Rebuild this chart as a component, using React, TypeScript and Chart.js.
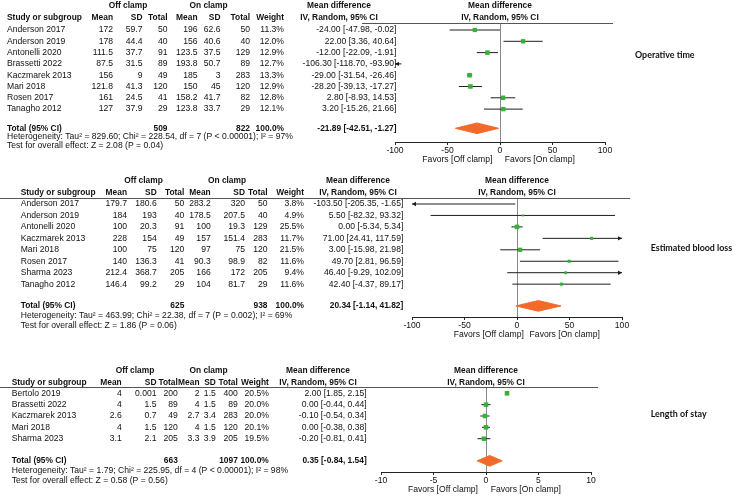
import React, { useEffect, useRef } from "react";
import { Chart, registerables } from "chart.js";

Chart.register(...registerables);

// ================= DATA =================
// --- Operative time ---
const opStudies = ["Anderson 2017", "Anderson 2019", "Antonelli 2020", "Brassetti 2022", "Kaczmarek 2013", "Mari 2018", "Rosen 2017", "Tanagho 2012"];
const opOffMean = [172, 178, 111.5, 87.5, 156, 121.8, 161, 127];
const opOffSD = [59.7, 44.4, 37.7, 31.5, 9, 41.3, 24.5, 37.9];
const opOffN = [50, 40, 91, 89, 49, 120, 41, 29];
const opOnMean = [196, 156, 123.5, 193.8, 185, 150, 158.2, 123.8];
const opOnSD = [62.6, 40.6, 37.5, 50.7, 3, 45, 41.7, 33.7];
const opOnN = [50, 40, 129, 89, 283, 120, 82, 29];
const opWeight = [11.3, 12.0, 12.9, 12.7, 13.3, 12.9, 12.8, 12.1];
const opMD = [-24.0, 22.0, -12.0, -106.3, -29.0, -28.2, 2.8, 3.2];
const opLo = [-47.98, 3.36, -22.09, -118.7, -31.54, -39.13, -8.93, -15.26];
const opHi = [-0.02, 40.64, -1.91, -93.9, -26.46, -17.27, 14.53, 21.66];
const opTotals = [509, 822];
const opPooled = [-21.89, -42.51, -1.27];
const opHet = "Heterogeneity: Tau² = 829.60; Chi² = 228.54, df = 7 (P < 0.00001); I² = 97%";
const opTest = "Test for overall effect: Z = 2.08 (P = 0.04)";
const opTicks = [-100, -50, 0, 50, 100];

// --- Estimated blood loss ---
const blStudies = ["Anderson 2017", "Anderson 2019", "Antonelli 2020", "Kaczmarek 2013", "Mari 2018", "Rosen 2017", "Sharma 2023", "Tanagho 2012"];
const blOffMean = [179.7, 184, 100, 228, 100, 140, 212.4, 146.4];
const blOffSD = [180.6, 193, 20.3, 154, 75, 136.3, 368.7, 99.2];
const blOffN = [50, 40, 91, 49, 120, 41, 205, 29];
const blOnMean = [283.2, 178.5, 100, 157, 97, 90.3, 166, 104];
const blOnSD = [320, 207.5, 19.3, 151.4, 75, 98.9, 172, 81.7];
const blOnN = [50, 40, 129, 283, 120, 82, 205, 29];
const blWeight = [3.8, 4.9, 25.5, 11.7, 21.5, 11.6, 9.4, 11.6];
const blMD = [-103.5, 5.5, 0.0, 71.0, 3.0, 49.7, 46.4, 42.4];
const blLo = [-205.35, -82.32, -5.34, 24.41, -15.98, 2.81, -9.29, -4.37];
const blHi = [-1.65, 93.32, 5.34, 117.59, 21.98, 96.59, 102.09, 89.17];
const blTotals = [625, 938];
const blPooled = [20.34, -1.14, 41.82];
const blHet = "Heterogeneity: Tau² = 463.99; Chi² = 22.38, df = 7 (P = 0.002); I² = 69%";
const blTest = "Test for overall effect: Z = 1.86 (P = 0.06)";
const blTicks = [-100, -50, 0, 50, 100];

// --- Length of stay ---
const losStudies = ["Bertolo 2019", "Brassetti 2022", "Kaczmarek 2013", "Mari 2018", "Sharma 2023"];
const losOffMean = [4, 4, 2.6, 4, 3.1];
const losOffSD = [0.001, 1.5, 0.7, 1.5, 2.1];
const losOffN = [200, 89, 49, 120, 205];
const losOnMean = [2, 4, 2.7, 4, 3.3];
const losOnSD = [1.5, 1.5, 3.4, 1.5, 3.9];
const losOnN = [400, 89, 283, 120, 205];
const losWeight = [20.5, 20.0, 20.0, 20.1, 19.5];
const losMD = [2.0, 0.0, -0.1, 0.0, -0.2];
const losLo = [1.85, -0.44, -0.54, -0.38, -0.81];
const losHi = [2.15, 0.44, 0.34, 0.38, 0.41];
const losTotals = [663, 1097];
const losPooled = [0.35, -0.84, 1.54];
const losHet = "Heterogeneity: Tau² = 1.79; Chi² = 225.95, df = 4 (P < 0.00001); I² = 98%";
const losTest = "Test for overall effect: Z = 0.58 (P = 0.56)";
const losTicks = [-10, -5, 0, 5, 10];

// ================= STYLE / LAYOUT =================
const W = 739;
const FONT = '"Liberation Sans", Arial, Helvetica, sans-serif';
const FS = 8.6;
const BOLD_FS = 8.4;
const LABEL_FONT = 'bold 8.9px Lato, "Open Sans", sans-serif';
const TEXT = "#111";
const GREEN = "#33b333";
const ORANGE = "#f26a2a";
const CI_COLOR = "#1e1e1e";
const ZERO = "#8a8a8a";
const RULE = "#555";
const AXIS = "#222";
const AXIS_H = 12;
const SQ_MAX = 4.6;
const DIAMOND_HALF = 5.3;

type PanelData = {
  title: string; studies: string[];
  offMean: number[]; offSD: number[]; offN: number[];
  onMean: number[]; onSD: number[]; onN: number[];
  weight: number[]; md: number[]; lo: number[]; hi: number[];
  totals: number[]; pooled: number[]; het: string; test: string; ticks: number[];
};

type Cols = { name: number; offMean: number; offSD: number; offN: number; onMean: number; onSD: number; onN: number; weight: number; md: number };
type PanelLayout = {
  top: number; height: number; lineX0: number; lineX1: number; plotL: number; plotR: number;
  lineY: number; row0: number; rowH: number; totalGap: number; axisY: number;
  hdr1Y: number; hdr2Y: number; hetY: number; testY: number; favY: number; favOff: number; favOn: number;
  cols: Cols; offHdrX: number; onHdrX: number; mdHdrX: number; labelX: number; labelY: number;
};

const panels: { d: PanelData; L: PanelLayout }[] = [
  {
    d: { title: "Operative time", studies: opStudies, offMean: opOffMean, offSD: opOffSD, offN: opOffN, onMean: opOnMean, onSD: opOnSD, onN: opOnN, weight: opWeight, md: opMD, lo: opLo, hi: opHi, totals: opTotals, pooled: opPooled, het: opHet, test: opTest, ticks: opTicks },
    L: {
      top: 0, height: 170, lineX0: 362, lineX1: 613, plotL: 395, plotR: 605,
      lineY: 23, row0: 30, rowH: 11.3, totalGap: 0.7, axisY: 142,
      hdr1Y: 6, hdr2Y: 17.3, hetY: 136.5, testY: 146, favY: 159.3, favOff: -7.6, favOn: 4.7,
      cols: { name: 7, offMean: 113, offSD: 142.5, offN: 167.5, onMean: 197.5, onSD: 220.5, onN: 250, weight: 284, md: 396.5 },
      offHdrX: 128, onHdrX: 208.5, mdHdrX: 339, labelX: 635, labelY: 55,
    },
  },
  {
    d: { title: "Estimated blood loss", studies: blStudies, offMean: blOffMean, offSD: blOffSD, offN: blOffN, onMean: blOnMean, onSD: blOnSD, onN: blOnN, weight: blWeight, md: blMD, lo: blLo, hi: blHi, totals: blTotals, pooled: blPooled, het: blHet, test: blTest, ticks: blTicks },
    L: {
      top: 170, height: 175, lineX0: 0, lineX1: 630, plotL: 412, plotR: 622,
      lineY: 28, row0: 34, rowH: 11.45, totalGap: 0.9, axisY: 147,
      hdr1Y: 11, hdr2Y: 22.2, hetY: 145.7, testY: 155.3, favY: 164.3, favOff: 6.8, favOn: 12.6,
      cols: { name: 20.7, offMean: 127, offSD: 156.7, offN: 184.3, onMean: 210.7, onSD: 245, onN: 267.5, weight: 304, md: 403.3 },
      offHdrX: 143.5, onHdrX: 227, mdHdrX: 358, labelX: 650.7, labelY: 78.3,
    },
  },
  {
    d: { title: "Length of stay", studies: losStudies, offMean: losOffMean, offSD: losOffSD, offN: losOffN, onMean: losOnMean, onSD: losOnSD, onN: losOnN, weight: losWeight, md: losMD, lo: losLo, hi: losHi, totals: losTotals, pooled: losPooled, het: losHet, test: losTest, ticks: losTicks },
    L: {
      top: 345, height: 155, lineX0: 0, lineX1: 598, plotL: 381, plotR: 591,
      lineY: 42, row0: 48.3, rowH: 11.35, totalGap: 0.95, axisY: 127,
      hdr1Y: 25.7, hdr2Y: 37.5, hetY: 126, testY: 136, favY: 145, favOff: -8, favOn: 4.7,
      cols: { name: 11.7, offMean: 121.7, offSD: 156.5, offN: 177.8, onMean: 199.5, onSD: 215.8, onN: 237.8, weight: 268.8, md: 366.7 },
      offHdrX: 135, onHdrX: 208.5, mdHdrX: 318, labelX: 650.7, labelY: 69,
    },
  },
];

const f2 = (v: number) => v.toFixed(2);
const ciText = (m: number, l: number, h: number) => `${f2(m)} [${f2(l)}, ${f2(h)}]`;

function drawTable(chart: any, d: PanelData, L: PanelLayout) {
  const ctx: CanvasRenderingContext2D = chart.ctx;
  const ys = chart.scales.y;
  const xs = chart.scales.x;
  const area = chart.chartArea;
  const C = L.cols;
  const n = d.studies.length;
  const put = (s: string, x: number, y: number, align: CanvasTextAlign, bold = false) => {
    ctx.font = bold ? `bold ${BOLD_FS}px ${FONT}` : `${FS}px ${FONT}`;
    ctx.textAlign = align;
    ctx.fillText(s, x, y);
  };
  ctx.save();
  ctx.fillStyle = TEXT;
  ctx.textBaseline = "middle";
  const pc = (area.left + area.right) / 2;
  put("Off clamp", L.offHdrX, L.hdr1Y, "center", true);
  put("On clamp", L.onHdrX, L.hdr1Y, "center", true);
  put("Mean difference", L.mdHdrX, L.hdr1Y, "center", true);
  put("Mean difference", pc, L.hdr1Y, "center", true);
  put("Study or subgroup", C.name, L.hdr2Y, "left", true);
  put("Mean", C.offMean, L.hdr2Y, "right", true);
  put("SD", C.offSD, L.hdr2Y, "right", true);
  put("Total", C.offN, L.hdr2Y, "right", true);
  put("Mean", C.onMean, L.hdr2Y, "right", true);
  put("SD", C.onSD, L.hdr2Y, "right", true);
  put("Total", C.onN, L.hdr2Y, "right", true);
  put("Weight", C.weight, L.hdr2Y, "right", true);
  put("IV, Random, 95% CI", L.mdHdrX, L.hdr2Y, "center", true);
  put("IV, Random, 95% CI", pc, L.hdr2Y, "center", true);

  d.studies.forEach((s, i) => {
    const y = ys.getPixelForValue(i);
    put(s, C.name, y, "left");
    put(String(d.offMean[i]), C.offMean, y, "right");
    put(String(d.offSD[i]), C.offSD, y, "right");
    put(String(d.offN[i]), C.offN, y, "right");
    put(String(d.onMean[i]), C.onMean, y, "right");
    put(String(d.onSD[i]), C.onSD, y, "right");
    put(String(d.onN[i]), C.onN, y, "right");
    put(d.weight[i].toFixed(1) + "%", C.weight, y, "right");
    put(ciText(d.md[i], d.lo[i], d.hi[i]), C.md, y, "right");
  });
  const ty = ys.getPixelForValue(n + L.totalGap);
  put("Total (95% CI)", C.name, ty, "left", true);
  put(String(d.totals[0]), C.offN, ty, "right", true);
  put(String(d.totals[1]), C.onN, ty, "right", true);
  put("100.0%", C.weight, ty, "right", true);
  put(ciText(d.pooled[0], d.pooled[1], d.pooled[2]), C.md, ty, "right", true);
  put(d.het, C.name, L.hetY, "left");
  put(d.test, C.name, L.testY, "left");

  const z = xs.getPixelForValue(0);
  put("Favors [Off clamp]", z + L.favOff, L.favY, "right");
  put("Favors [On clamp]", z + L.favOn, L.favY, "left");

  ctx.font = LABEL_FONT;
  ctx.textAlign = "left";
  ctx.fillText(d.title, L.labelX, L.labelY);

  // header rule
  ctx.strokeStyle = RULE;
  ctx.lineWidth = 1;
  ctx.beginPath();
  const ry = Math.round(area.top) + 0.5;
  ctx.moveTo(L.lineX0, ry);
  ctx.lineTo(L.lineX1, ry);
  ctx.stroke();
  ctx.restore();
}

function drawArrows(chart: any, d: PanelData) {
  const ctx: CanvasRenderingContext2D = chart.ctx;
  const xs = chart.scales.x;
  const ys = chart.scales.y;
  const min = xs.min, max = xs.max;
  ctx.save();
  ctx.fillStyle = CI_COLOR;
  d.studies.forEach((_, i) => {
    const y = ys.getPixelForValue(i);
    if (d.lo[i] < min) {
      const x = xs.getPixelForValue(min);
      ctx.beginPath();
      ctx.moveTo(x, y);
      ctx.lineTo(x + 4, y - 2.2);
      ctx.lineTo(x + 4, y + 2.2);
      ctx.closePath();
      ctx.fill();
    }
    if (d.hi[i] > max) {
      const x = xs.getPixelForValue(max);
      ctx.beginPath();
      ctx.moveTo(x, y);
      ctx.lineTo(x - 4, y - 2.2);
      ctx.lineTo(x - 4, y + 2.2);
      ctx.closePath();
      ctx.fill();
    }
  });
  ctx.restore();
}

function Panel({ d, L }: { d: PanelData; L: PanelLayout }) {
  const ref = useRef<HTMLCanvasElement>(null);
  useEffect(() => {
    const canvas = ref.current;
    if (!canvas) return;
    const n = d.studies.length;
    const wmax = Math.max(...d.weight);
    const ciSets = d.studies.map((s, i) => ({
      label: s,
      data: [{ x: d.lo[i], y: i }, { x: d.hi[i], y: i }],
      showLine: true,
      borderColor: CI_COLOR,
      borderWidth: 1,
      pointRadius: 0,
      clip: 0,
      order: 2,
    }));
    const squares = {
      label: "estimate",
      data: d.md.map((m, i) => ({ x: m, y: i })),
      pointStyle: "rect",
      pointRadius: d.weight.map((w) => (SQ_MAX / Math.SQRT2) * Math.sqrt(w / wmax)),
      backgroundColor: GREEN,
      borderColor: GREEN,
      borderWidth: 0,
      clip: 0,
      order: 0,
    };
    const t = n + L.totalGap;
    const dh = DIAMOND_HALF / L.rowH;
    const [pe, pl, ph] = d.pooled;
    const diamond = {
      label: "pooled",
      data: [
        { x: pl, y: t },
        { x: pe, y: t - dh },
        { x: ph, y: t },
        { x: pe, y: t + dh },
        { x: pl, y: t },
      ],
      showLine: true,
      fill: "shape",
      backgroundColor: ORANGE,
      borderColor: ORANGE,
      borderWidth: 1,
      pointRadius: 0,
      tension: 0,
      clip: 0,
      order: 1,
    };
    const tickMin = d.ticks[0];
    const tickMax = d.ticks[d.ticks.length - 1];
    const chart = new Chart(canvas, {
      type: "scatter",
      data: { datasets: [squares, diamond, ...ciSets] as any },
      options: {
        animation: false,
        responsive: false,
        devicePixelRatio: 1,
        events: [],
        layout: {
          padding: {
            left: L.plotL,
            right: W - L.plotR,
            top: L.lineY,
            bottom: L.height - L.axisY - AXIS_H,
          },
        },
        plugins: { legend: { display: false }, tooltip: { enabled: false }, title: { display: false } },
        scales: {
          x: {
            type: "linear",
            min: tickMin,
            max: tickMax,
            afterBuildTicks: (s: any) => {
              s.ticks = d.ticks.map((v) => ({ value: v }));
            },
            afterFit: (s: any) => {
              s.height = AXIS_H;
            },
            ticks: {
              autoSkip: false,
              maxRotation: 0,
              padding: 0,
              color: TEXT,
              font: { family: FONT, size: FS },
              callback: (v: any) => String(v),
            },
            grid: {
              display: true,
              drawOnChartArea: true,
              drawTicks: true,
              tickLength: 3,
              lineWidth: 1,
              color: (c: any) => (c.tick && c.tick.value === 0 ? ZERO : "rgba(0,0,0,0)"),
              tickColor: AXIS,
            },
            border: { display: true, color: AXIS, width: 1 },
          },
          y: {
            type: "linear",
            display: false,
            reverse: true,
            min: (L.lineY - L.row0) / L.rowH,
            max: (L.axisY - L.row0) / L.rowH,
          },
        },
      } as any,
      plugins: [
        {
          id: "forestExtras",
          afterDatasetsDraw: (c: any) => drawArrows(c, d),
          afterDraw: (c: any) => drawTable(c, d, L),
        },
      ],
    });
    return () => chart.destroy();
  }, [d, L]);
  return (
    <canvas
      ref={ref}
      width={W}
      height={L.height}
      style={{ position: "absolute", left: 0, top: L.top, width: W, height: L.height, display: "block" }}
    />
  );
}

export default function App() {
  return (
    <div style={{ position: "fixed", left: 0, top: 0, width: W, height: 500, background: "#fff", overflow: "hidden" }}>
      {panels.map((p, i) => (
        <Panel key={i} d={p.d} L={p.L} />
      ))}
    </div>
  );
}
